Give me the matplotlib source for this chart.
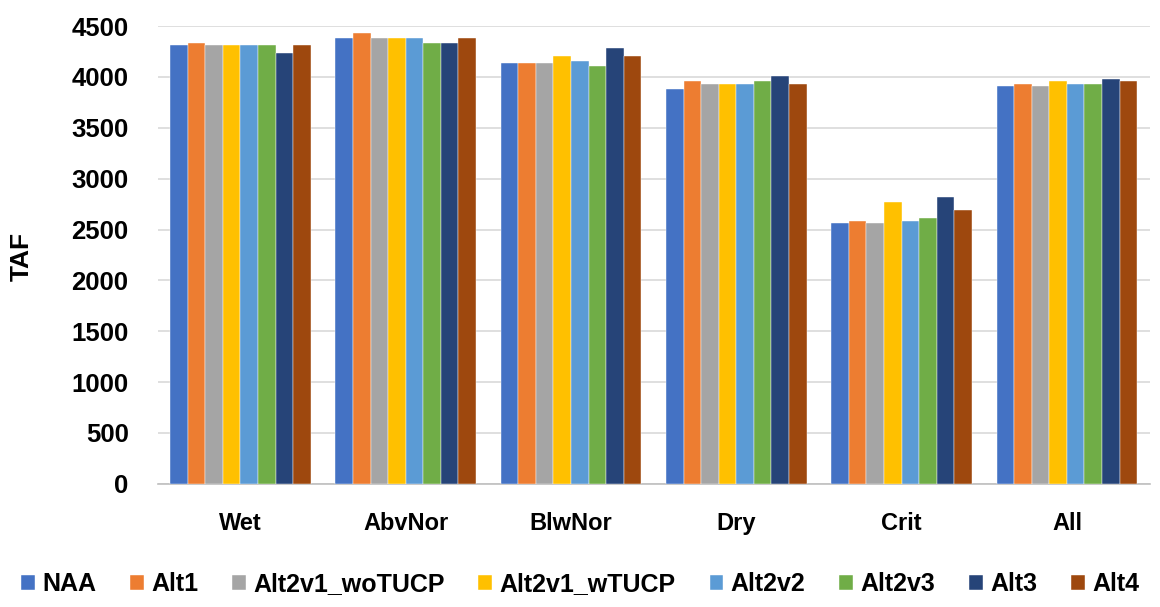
import matplotlib
matplotlib.use("Agg")
import matplotlib.pyplot as plt
import numpy as np

categories = ["Wet", "AbvNor", "BlwNor", "Dry", "Crit", "All"]
series_names = ["NAA", "Alt1", "Alt2v1_woTUCP", "Alt2v1_wTUCP", "Alt2v2", "Alt2v3", "Alt3", "Alt4"]
NAA = [4310, 4385, 4136, 3884, 2560, 3909]
Alt1 = [4335, 4437, 4136, 3957, 2583, 3932]
Alt2v1_woTUCP = [4310, 4385, 4136, 3932, 2560, 3909]
Alt2v1_wTUCP = [4310, 4385, 4210, 3932, 2767, 3957]
Alt2v2 = [4310, 4385, 4161, 3932, 2583, 3932]
Alt2v3 = [4310, 4335, 4110, 3957, 2610, 3932]
Alt3 = [4240, 4335, 4284, 4006, 2817, 3983]
Alt4 = [4310, 4385, 4207, 3932, 2690, 3957]
yticks = [0, 500, 1000, 1500, 2000, 2500, 3000, 3500, 4000, 4500]

series = [NAA, Alt1, Alt2v1_woTUCP, Alt2v1_wTUCP, Alt2v2, Alt2v3, Alt3, Alt4]
colors = ["#4472C4", "#ED7D31", "#A5A5A5", "#FFC000", "#5B9BD5", "#70AD47", "#264478", "#9E480E"]

plt.rcParams['font.family'] = ['Liberation Sans', 'DejaVu Sans']

fig = plt.figure(figsize=(11.6, 6.07), dpi=100)
ax = fig.add_axes([0.136, 0.203, 0.855, 0.754])

x = np.arange(len(categories))
n = len(series)
group_w = 0.85
bw = group_w / n
for i, (vals, c, name) in enumerate(zip(series, colors, series_names)):
    ax.bar(x - group_w / 2 + bw * (i + 0.5), vals, width=bw, color=c, label=name,
           edgecolor='white', linewidth=0.3, zorder=3)

ax.set_xlim(-0.5, len(categories) - 0.5)
ax.set_ylim(0, 4500)
ax.set_yticks(yticks)
ax.set_yticklabels([str(t) for t in yticks], fontsize=18.5, fontweight='bold')
ax.set_xticks(x)
ax.set_xticklabels(categories, fontsize=17, fontweight='bold')
ax.tick_params(axis='both', length=0)
ax.tick_params(axis='x', pad=20)
ax.tick_params(axis='y', pad=21)
ax.grid(axis='y', color='#D9D9D9', linewidth=1.2, zorder=0)
for s in ['top', 'right', 'left']:
    ax.spines[s].set_visible(False)
ax.spines['bottom'].set_color('#BFBFBF')
ax.spines['bottom'].set_linewidth(1.2)
fig.text(22 / 1160, 1 - 256 / 607, "TAF", rotation=90, ha='center', va='center',
         fontsize=19, fontweight='bold')

leg = fig.legend(loc='center', bbox_to_anchor=(0.5, 0.038), ncol=8, frameon=False,
                 fontsize=18, handlelength=0.55, handleheight=0.55, handletextpad=0.3,
                 columnspacing=1.35)
for t in leg.get_texts():
    t.set_fontweight('bold')

fig.savefig("out.png", dpi=100)
